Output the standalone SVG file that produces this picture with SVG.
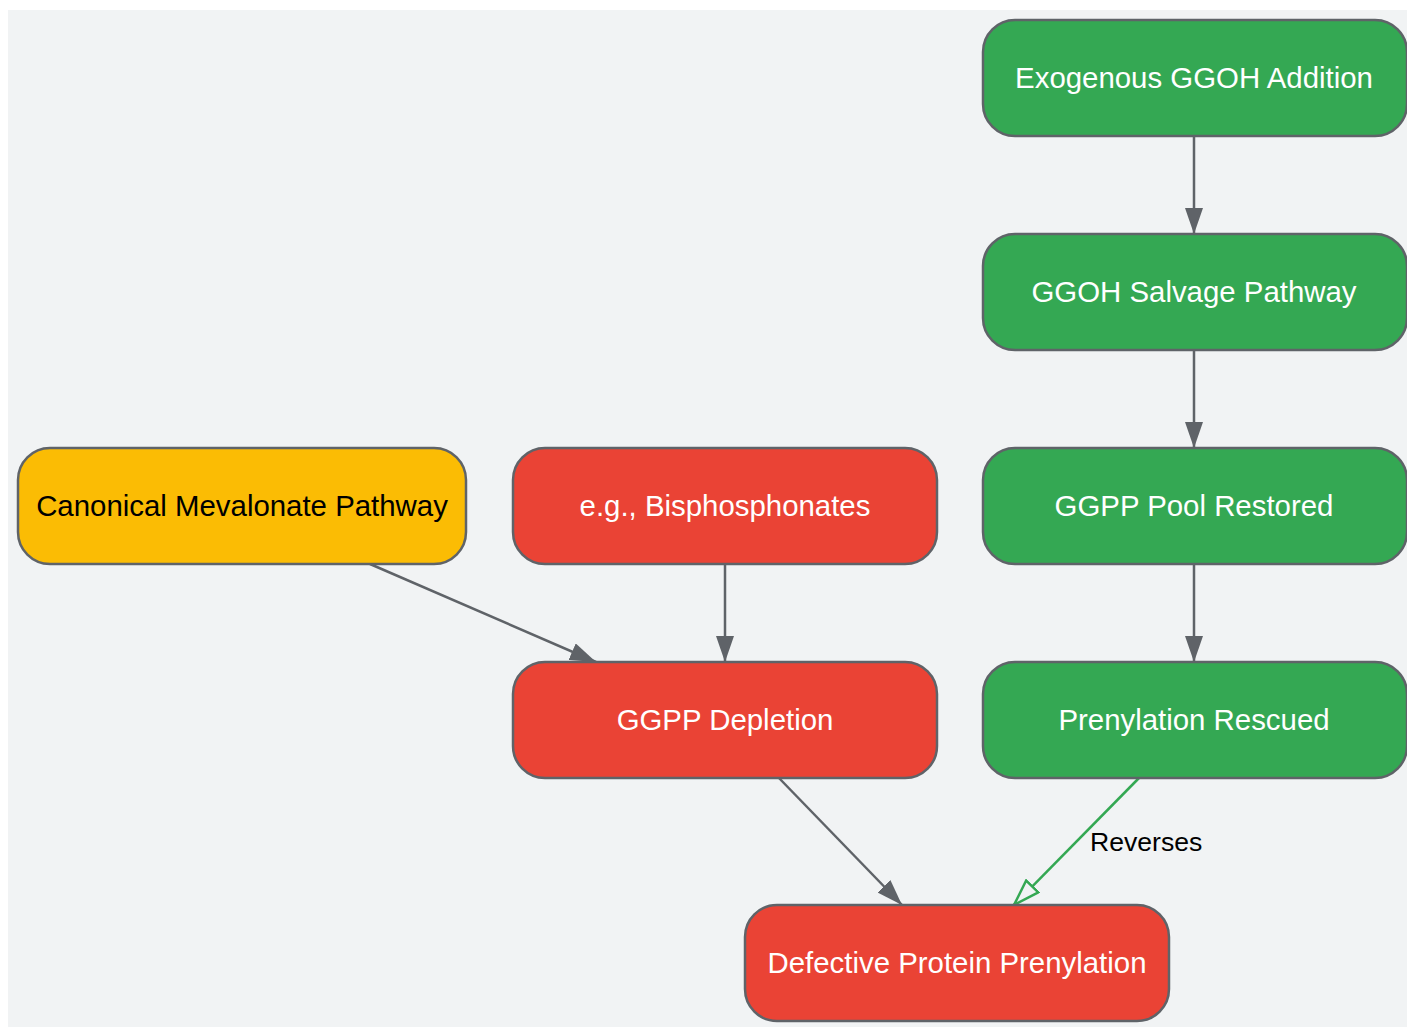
<svg xmlns="http://www.w3.org/2000/svg" width="1407" height="1027" viewBox="0 0 1407 1027">
<defs>
<style>
.n rect{stroke:#5f6368;stroke-width:2.5}
.g rect{fill:#34a853}
.r rect{fill:#ea4335}
.y rect{fill:#fbbc04}
.n text{font-family:"Liberation Sans",Arial,sans-serif;font-size:29.4px;text-anchor:middle;dominant-baseline:central;fill:#ffffff}
.y text{fill:#000000}
.e{fill:none;stroke:#5f6368;stroke-width:2.5}
.eg{fill:none;stroke:#34a853;stroke-width:2.5}
.lbl{font-family:"Liberation Sans",Arial,sans-serif;font-size:26.6px;fill:#000000}
</style>
<marker id="ah" viewBox="0 0 26 18" refX="26" refY="9" markerWidth="26" markerHeight="18" markerUnits="userSpaceOnUse" orient="auto">
<path d="M0,0 L26,9 L0,18 Z" fill="#5f6368"/>
</marker>
<marker id="ahg" viewBox="0 0 28 20" refX="27" refY="10" markerWidth="28" markerHeight="20" markerUnits="userSpaceOnUse" orient="auto">
<path d="M1,1.5 L27,10 L1,18.5 Z" fill="#f1f3f4" stroke="#34a853" stroke-width="2.5"/>
</marker>
</defs>
<rect x="8" y="10" width="1399" height="1017" fill="#f1f3f4"/>
<g id="edges">
<line class="e" x1="1194" y1="136" x2="1194" y2="234" marker-end="url(#ah)"/>
<line class="e" x1="1194" y1="350" x2="1194" y2="448" marker-end="url(#ah)"/>
<line class="e" x1="1194" y1="564" x2="1194" y2="662" marker-end="url(#ah)"/>
<line class="e" x1="370" y1="564" x2="596" y2="662" marker-end="url(#ah)"/>
<line class="e" x1="725" y1="564" x2="725" y2="662" marker-end="url(#ah)"/>
<line class="e" x1="779" y1="778" x2="902" y2="905" marker-end="url(#ah)"/>
<line class="eg" x1="1139" y1="778" x2="1014" y2="905" marker-end="url(#ahg)"/>
<text class="lbl" x="1090" y="851">Reverses</text>
</g>
<g id="n_exo" class="n g"><rect x="983" y="20" width="424" height="116" rx="32"/><text x="1194" y="77">Exogenous GGOH Addition</text></g>
<g id="n_salvage" class="n g"><rect x="983" y="234" width="424" height="116" rx="32"/><text x="1194" y="291">GGOH Salvage Pathway</text></g>
<g id="n_restored" class="n g"><rect x="983" y="448" width="424" height="116" rx="32"/><text x="1194" y="505">GGPP Pool Restored</text></g>
<g id="n_rescued" class="n g"><rect x="983" y="662" width="424" height="116" rx="32"/><text x="1194" y="719">Prenylation Rescued</text></g>
<g id="n_canonical" class="n y"><rect x="18" y="448" width="448" height="116" rx="32"/><text x="242" y="505">Canonical Mevalonate Pathway</text></g>
<g id="n_bisphos" class="n r"><rect x="513" y="448" width="424" height="116" rx="32"/><text x="725" y="505">e.g., Bisphosphonates</text></g>
<g id="n_depletion" class="n r"><rect x="513" y="662" width="424" height="116" rx="32"/><text x="725" y="719">GGPP Depletion</text></g>
<g id="n_defective" class="n r"><rect x="745" y="905" width="424" height="116" rx="32"/><text x="957" y="962">Defective Protein Prenylation</text></g>
</svg>
